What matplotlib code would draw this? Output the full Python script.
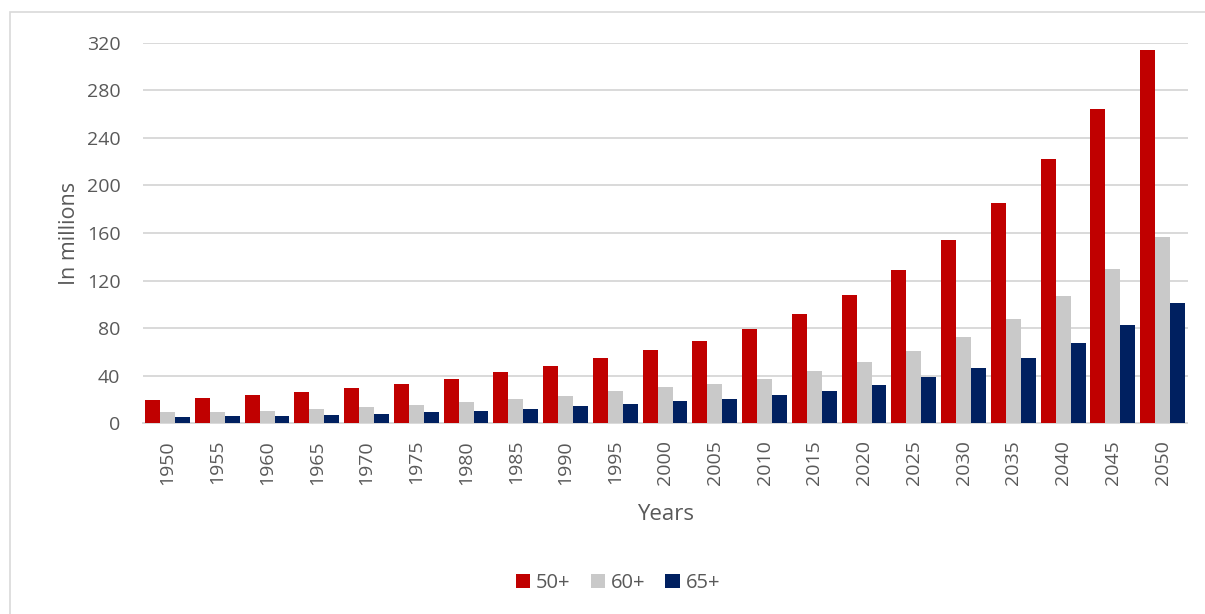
import matplotlib
matplotlib.use("Agg")
import matplotlib.pyplot as plt
from matplotlib.patches import Rectangle
import numpy as np

years = ["1950", "1955", "1960", "1965", "1970", "1975", "1980", "1985", "1990", "1995",
         "2000", "2005", "2010", "2015", "2020", "2025", "2030", "2035", "2040", "2045", "2050"]
series_names = ["50+", "60+", "65+"]
values_50 = [19.3, 21.0, 23.8, 26.3, 29.4, 33.3, 37.5, 43.1, 48.2, 54.7,
             61.4, 69.0, 79.0, 92.0, 108.0, 129.0, 154.2, 185.5, 222.0, 264.6, 314.0]
values_60 = [9.3, 9.8, 10.6, 12.0, 13.5, 15.7, 17.7, 20.4, 23.0, 26.9,
             30.3, 33.0, 37.3, 44.0, 51.3, 61.0, 72.8, 88.0, 107.0, 130.0, 157.0]
values_65 = [5.3, 5.9, 6.4, 7.0, 8.1, 9.3, 10.6, 12.3, 14.6, 16.5,
             18.8, 20.7, 23.5, 27.2, 32.2, 38.7, 46.2, 55.2, 67.3, 82.4, 101.0]
y_ticks = [0, 40, 80, 120, 160, 200, 240, 280, 320]

colors = ["#C00000", "#C9C9C9", "#002060"]
text_color = "#595959"
font = ["Open Sans", "DejaVu Sans"]
plt.rcParams["font.family"] = font

W, H = 1205, 614
fig = plt.figure(figsize=(W / 100, H / 100), dpi=100)
fig.patch.set_facecolor("white")

# outer chart border
fig.patches.append(Rectangle((10 / W, -0.02), 1.05, 1 - 12 / H + 0.02, transform=fig.transFigure,
                             fill=False, edgecolor="#D9D9D9", linewidth=1.2))

left, right = 142.7 / W, 1187.5 / W
bottom, top = 1 - 423.3 / H, 1 - 42.7 / H
ax = fig.add_axes([left, bottom, right - left, top - bottom])

x = np.arange(len(years))
bw = 0.3
for i, (vals, c, name) in enumerate(zip([values_50, values_60, values_65], colors, series_names)):
    ax.bar(x + (i - 1) * bw, vals, width=bw, color=c, label=name, zorder=3, linewidth=0)

ax.set_xlim(-0.5, len(years) - 0.5)
ax.set_ylim(0, 320)
ax.set_yticks(y_ticks)
ax.set_yticklabels([str(t) for t in y_ticks])
ax.set_xticks(x)
ax.set_xticklabels(years, rotation=90)
ax.tick_params(axis="both", length=0, labelsize=14, colors=text_color)
ax.tick_params(axis="x", pad=12)
ax.tick_params(axis="y", pad=16)
ax.grid(axis="y", color="#D9D9D9", linewidth=1.4, zorder=0)
for s in ["top", "right", "left"]:
    ax.spines[s].set_visible(False)
ax.spines["bottom"].set_color("#D9D9D9")
ax.spines["bottom"].set_linewidth(1.4)

ax.set_ylabel("In millions", fontsize=15.5, color=text_color, labelpad=5)
ax.set_xlabel("Years", fontsize=16, color=text_color, labelpad=14)

leg = fig.legend(loc="center", bbox_to_anchor=(618 / W, 1 - 583 / H), ncol=3, frameon=False,
                 fontsize=14.5, handlelength=0.7, handleheight=0.7, handletextpad=0.3,
                 columnspacing=1.0, labelcolor=text_color)

fig.savefig("out.png", dpi=100, facecolor="white")
